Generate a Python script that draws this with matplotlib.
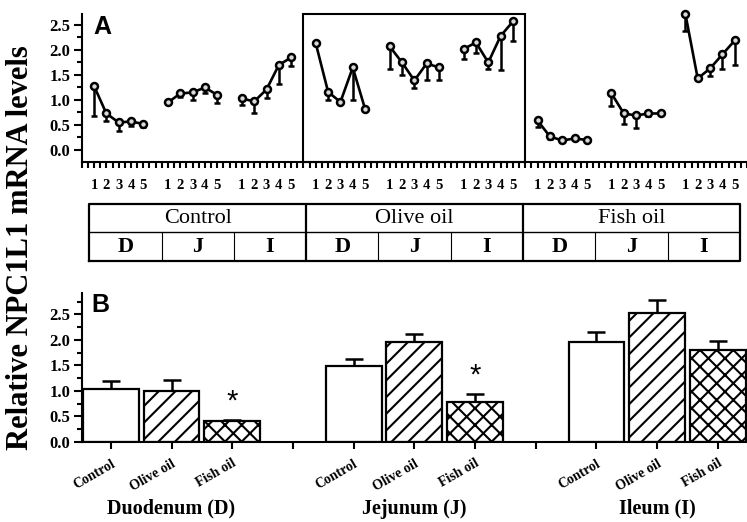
import matplotlib.pyplot as plt
import numpy as np
from matplotlib.patches import Rectangle

plt.rcParams['font.family'] = 'Liberation Serif'
plt.rcParams['hatch.linewidth'] = 1.5

# panel A: time course (points 1-5) per diet and intestinal segment
diets = ["Control", "Olive oil", "Fish oil"]
segments = ["D", "J", "I"]
time_points = [1, 2, 3, 4, 5]

ctrl_means = [[1.28, 0.73, 0.55, 0.57, 0.52],
              [0.95, 1.13, 1.15, 1.25, 1.10],
              [1.03, 0.97, 1.21, 1.70, 1.85]]
ctrl_errs = [[0.60, 0.16, 0.18, 0.09, 0.07],
             [0.00, 0.08, 0.16, 0.12, 0.17],
             [0.13, 0.24, 0.18, 0.38, 0.18]]
olive_means = [[2.13, 1.16, 0.96, 1.65, 0.82],
               [2.07, 1.75, 1.39, 1.73, 1.65],
               [2.02, 2.15, 1.75, 2.28, 2.57]]
olive_errs = [[0.00, 0.16, 0.00, 0.66, 0.00],
              [0.46, 0.25, 0.16, 0.34, 0.26],
              [0.21, 0.22, 0.14, 0.68, 0.40]]
fish_means = [[0.59, 0.27, 0.19, 0.23, 0.20],
              [1.13, 0.73, 0.69, 0.73, 0.73],
              [2.72, 1.43, 1.63, 1.91, 2.19]]
fish_errs = [[0.14, 0.05, 0.00, 0.00, 0.00],
             [0.26, 0.21, 0.26, 0.06, 0.00],
             [0.35, 0.00, 0.15, 0.29, 0.49]]

# panel B: pooled levels per segment
regions = ["Duodenum (D)", "Jejunum (J)", "Ileum (I)"]
bar_labels = ["Control", "Olive oil", "Fish oil"]
bar_ctrl = [1.04, 1.48, 1.95]
bar_olive = [0.99, 1.95, 2.52]
bar_fish = [0.40, 0.77, 1.80]
err_ctrl = [0.15, 0.14, 0.20]
err_olive = [0.23, 0.16, 0.27]
err_fish = [0.03, 0.16, 0.17]
significant = [[False, False, True], [False, False, True], [False, False, False]]

fig = plt.figure(figsize=(7.47, 5.22), dpi=100)

# ---------------- panel A ----------------
axA = fig.add_axes([0.1094, 0.6897, 0.8906, 0.2835])
all_means = ctrl_means + olive_means + fish_means
all_errs = ctrl_errs + olive_errs + fish_errs
tick_pos, tick_lab = [], []
for k, (m, e) in enumerate(zip(all_means, all_errs)):
    x = 6 * k + np.array(time_points)
    e = np.asarray(e)
    cont = axA.errorbar(x, m, yerr=[e, np.zeros_like(e)], fmt='-o', color='black',
                        lw=1.9, ms=5, mfc='0.85', mec='black', mew=1.8,
                        capsize=2.5, capthick=1.8, elinewidth=1.8, zorder=3)
    for art in cont.get_children():
        art.set_clip_on(False)
for t in np.arange(0, 54.01, 0.5):
    tick_pos.append(t)
    r = int(round(t)) % 6
    tick_lab.append(str(r) if (t == int(t) and r != 0) else "")

axA.set_xlim(0, 54)
axA.set_ylim(-0.24, 2.72)
axA.set_xticks(tick_pos)
axA.set_xticklabels(tick_lab, fontsize=10.5, fontweight='bold')
axA.set_yticks([0, 0.5, 1.0, 1.5, 2.0, 2.5])
axA.set_yticks(np.arange(0.25, 2.6, 0.5), minor=True)
axA.set_yticklabels(["0.0", "0.5", "1.0", "1.5", "2.0", "2.5"], fontsize=12, fontweight='bold')
axA.tick_params(axis='x', length=4, width=1.5, pad=8)
axA.tick_params(axis='y', which='major', length=6, width=1.5, pad=2)
axA.tick_params(axis='y', which='minor', length=3.5, width=1.5)
for s in ['top', 'right']:
    axA.spines[s].set_visible(False)
for s in ['left', 'bottom']:
    axA.spines[s].set_linewidth(1.5)
axA.add_patch(Rectangle((18, -0.24), 18, 2.96, fill=False, lw=1.5,
                        edgecolor='black', clip_on=False))

# ---------------- legend table ----------------
axT = fig.add_axes([0.1195, 0.5006, 0.8711, 0.108])
axT.set_xlim(0, 9)
axT.set_ylim(0, 2)
axT.axis('off')
axT.plot([0, 9, 9, 0, 0], [0, 0, 2, 2, 0], color='black', lw=1.6, clip_on=False)
axT.plot([0, 9], [1, 1], color='black', lw=1.0)
for v in [3, 6]:
    axT.plot([v, v], [0, 2], color='black', lw=1.6)
for v in [1, 2, 4, 5, 7, 8]:
    axT.plot([v, v], [0, 1], color='black', lw=0.8)
for i, d in enumerate(diets):
    axT.text(3 * i + 1.5, 1.5, d, ha='center', va='center', fontsize=16)
    for j, sg in enumerate(segments):
        axT.text(3 * i + j + 0.5, 0.5, sg, ha='center', va='center',
                 fontsize=16, fontweight='bold')

# ---------------- panel B ----------------
axB = fig.add_axes([0.1094, 0.1538, 0.8906, 0.2849])
hatches = [None, '//', 'xx']
series = [(bar_ctrl, err_ctrl), (bar_olive, err_olive), (bar_fish, err_fish)]
xt, xl = [], []
for g in range(3):
    for b, (vals, errs) in enumerate(series):
        x = 4 * g + b
        axB.bar(x, vals[g], width=0.92, color='white', edgecolor='black',
                linewidth=1.6, hatch=hatches[b], zorder=2)
        axB.errorbar(x, vals[g], yerr=[[0], [errs[g]]], fmt='none', ecolor='black',
                     elinewidth=1.8, capsize=6.5, capthick=1.8, zorder=1)
        if significant[g][b]:
            axB.text(x, vals[g] + errs[g] + 0.36, '*', ha='center', va='center',
                     fontsize=21, family='Liberation Sans')
        xt.append(x)
        xl.append(bar_labels[b])
    axB.text(4 * g + 1, -0.45, regions[g], transform=axB.get_xaxis_transform(),
             ha='center', va='center', fontsize=14.5, fontweight='bold')
    if g < 2:
        xt.append(4 * g + 3)
        xl.append("")

axB.set_xlim(-0.48, 10.48)
axB.set_ylim(0, 2.92)
axB.set_xticks(xt)
axB.set_xticklabels(xl, rotation=30, ha='right', rotation_mode='anchor',
                    fontsize=10, fontweight='bold')
axB.set_yticks([0, 0.5, 1.0, 1.5, 2.0, 2.5])
axB.set_yticks(np.arange(0.25, 2.8, 0.5), minor=True)
axB.set_yticklabels(["0.0", "0.5", "1.0", "1.5", "2.0", "2.5"], fontsize=12, fontweight='bold')
axB.tick_params(axis='x', length=5, width=1.5, pad=6)
axB.tick_params(axis='y', which='major', length=6, width=1.5, pad=2)
axB.tick_params(axis='y', which='minor', length=3.5, width=1.5)
for s in ['top', 'right']:
    axB.spines[s].set_visible(False)
for s in ['left', 'bottom']:
    axB.spines[s].set_linewidth(1.5)

fig.text(102 / 747, 1 - 27 / 522, 'A', ha='center', va='center',
         family='Liberation Sans', fontweight='bold', fontsize=18)
fig.text(100 / 747, 1 - 305 / 522, 'B', ha='center', va='center',
         family='Liberation Sans', fontweight='bold', fontsize=18)
fig.text(0.028, 0.525, 'Relative NPC1L1 mRNA levels', rotation=90, ha='center',
         va='center', fontsize=22, fontweight='bold')

fig.savefig('out.png', dpi=100)
